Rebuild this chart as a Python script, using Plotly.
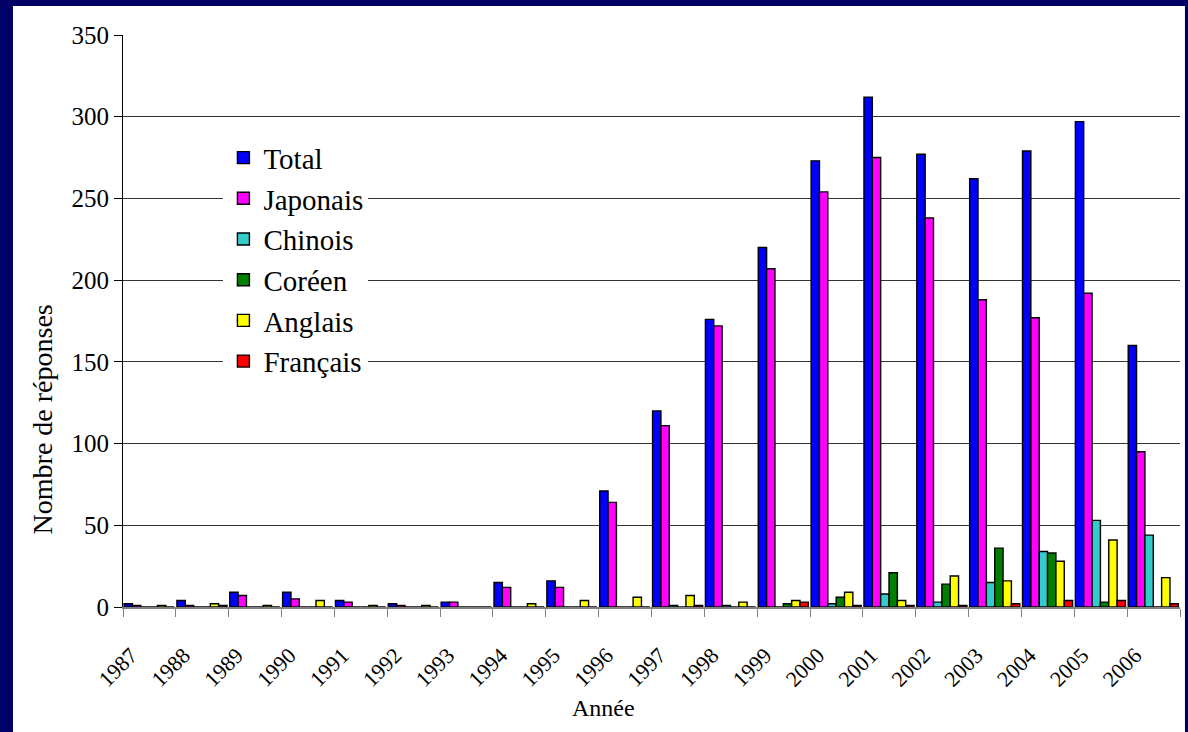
import plotly.graph_objects as go

years = [1987, 1988, 1989, 1990, 1991, 1992, 1993, 1994, 1995, 1996,
         1997, 1998, 1999, 2000, 2001, 2002, 2003, 2004, 2005, 2006]
total = [2, 4, 9, 9, 4, 2, 3, 15, 16, 71, 120, 176, 220, 273, 312, 277, 262, 279, 297, 160]
japonais = [1, 1, 7, 5, 3, 1, 3, 12, 12, 64, 111, 172, 207, 254, 275, 238, 188, 177, 192, 95]
chinois = [0, 0, 0, 0, 0, 0, 0, 0, 0, 0, 1, 1, 0, 2, 8, 3, 15, 34, 53, 44]
coreen = [0, 0, 0, 0, 0, 0, 0, 0, 0, 0, 0, 0, 2, 6, 21, 14, 36, 33, 3, 0]
anglais = [1, 2, 1, 4, 1, 1, 0, 2, 4, 6, 7, 3, 4, 9, 4, 19, 16, 28, 41, 18]
francais = [0, 1, 0, 0, 0, 0, 0, 0, 0, 0, 1, 0, 3, 1, 1, 1, 2, 4, 4, 2]

series = [
    ("Total", total, "#0000FF"),
    ("Japonais", japonais, "#FF00FF"),
    ("Chinois", chinois, "#33CCCC"),
    ("Coréen", coreen, "#008000"),
    ("Anglais", anglais, "#FFFF00"),
    ("Français", francais, "#FF0000"),
]

FONT = "Liberation Serif"
bw = 0.158
fig = go.Figure()
for k, (name, vals, col) in enumerate(series):
    fig.add_trace(go.Bar(
        x=years, y=vals, name=name, legendgroup=name,
        width=bw, offset=0.02 + k * bw,
        marker=dict(color=col, line=dict(color="black", width=1.4)),
    ))

tickvals = years + [years[-1] + 1]
ticktext = [str(y) for y in years] + [""]

fig.update_layout(
    width=1188, height=732,
    barmode="overlay",
    paper_bgcolor="#000066",
    plot_bgcolor="white",
    margin=dict(l=123, r=8, t=35, b=125),
    font=dict(family=FONT, color="black"),
    showlegend=True,
    legend=dict(
        x=0.095, y=0.83, xanchor="left", yanchor="top",
        bgcolor="white", font=dict(size=29, family=FONT),
        tracegroupgap=0, itemwidth=30,
    ),
    shapes=[dict(type="rect", xref="paper", yref="paper",
                 x0=-0.1041, x1=1.0047, y0=-0.3, y1=1.0507,
                 fillcolor="white", line=dict(width=0), layer="below")],
    annotations=[
        dict(text="Nombre de réponses", xref="paper", yref="paper",
             x=-0.0766, y=0.328, textangle=-90, showarrow=False,
             font=dict(size=28, family=FONT), xanchor="center", yanchor="middle"),
        dict(text="Année", xref="paper", yref="paper",
             x=0.455, y=-0.177, showarrow=False,
             font=dict(size=24, family=FONT), xanchor="center", yanchor="middle"),
    ],
)
fig.update_xaxes(
    range=[years[0], years[-1] + 1],
    tickmode="array", tickvals=tickvals, ticktext=ticktext,
    tickangle=-45, tickfont=dict(size=22, family=FONT),
    ticks="outside", ticklen=8, tickcolor="#808080",
    showline=True, linecolor="#808080", linewidth=1.5,
    showgrid=False, zeroline=False,
    ticklabelshift=8, ticklabelstandoff=17,
)
fig.update_yaxes(
    range=[0, 350], dtick=50, tick0=0,
    tickfont=dict(size=25, family=FONT),
    ticks="outside", ticklen=8, tickcolor="black",
    showline=True, linecolor="black", linewidth=1,
    showgrid=True, gridcolor="#333333", gridwidth=1,
    zeroline=False,
)
fig.write_html(
    "out.html",
    config={"displayModeBar": False},
    post_script="document.body.style.margin='0';document.body.style.background='#000066';",
)
